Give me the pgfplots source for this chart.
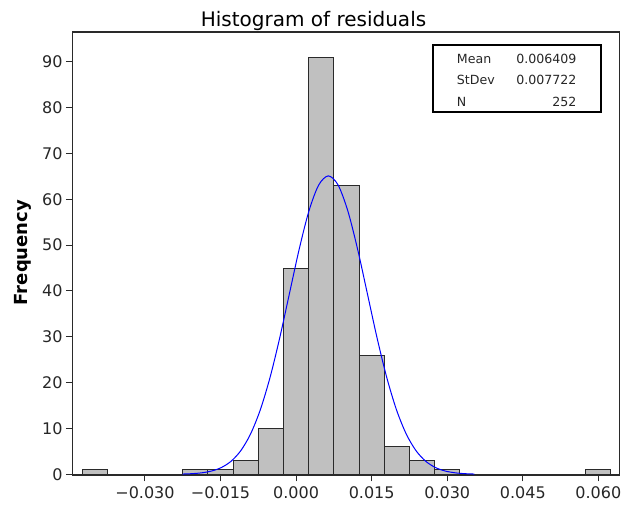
\documentclass[border=0pt]{standalone}
\usepackage{fontspec}
\setmainfont{DejaVu Sans}
\usepackage{pgfplots}
\pgfplotsset{compat=1.18}
\definecolor{barfill}{HTML}{C0C0C0}
\definecolor{edge}{HTML}{2A2A2A}
\begin{document}
\begin{tikzpicture}
\begin{axis}[name=a, scale only axis, width=547bp, height=443bp,
  xmin=-0.04439, xmax=0.06420, ymin=-0.15, ymax=96.49,
  scaled x ticks=false, scaled y ticks=false,
  axis line style={edge, line width=1.2bp},
  xtick={-0.03,-0.015,0,0.015,0.03,0.045,0.06},
  xticklabels={−0.030,−0.015,0.000,0.015,0.030,0.045,0.060},
  ytick={0,10,...,90},
  tick align=outside, xtick pos=bottom, ytick pos=left,
  major tick length=6.5bp, tick style={edge, line width=1bp},
  /pgf/number format/assume math mode=true,
  ticklabel style={font=\fontsize{16bp}{18bp}\selectfont, text=black!85},
  xticklabel style={yshift=-2bp},
  clip=true]
\addplot[ybar interval, fill=barfill, draw=edge, line width=1bp] coordinates {
  (-0.0425,1) (-0.0375,1)};
\addplot[ybar interval, fill=barfill, draw=edge, line width=1bp] coordinates {
  (-0.0225,1) (-0.0175,1) (-0.0125,3) (-0.0075,10) (-0.0025,45) (0.0025,91)
  (0.0075,63) (0.0125,26) (0.0175,6) (0.0225,3) (0.0275,1) (0.0325,1)};
\addplot[ybar interval, fill=barfill, draw=edge, line width=1bp] coordinates {
  (0.0575,1) (0.0625,1)};
\addplot[blue, line width=1bp, smooth] coordinates {
  (-0.022549,0.0575) (-0.020618,0.1424) (-0.018688,0.3311) (-0.016757,0.7232)
  (-0.014827,1.484) (-0.012896,2.860) (-0.010966,5.179) (-0.009035,8.811)
  (-0.007105,14.08) (-0.005174,21.13) (-0.003244,29.80) (-0.001313,39.49)
  (0.000618,49.14) (0.002548,57.45) (0.004479,63.10) (0.006409,65.10)
  (0.008340,63.10) (0.010270,57.45) (0.012201,49.14) (0.014131,39.49)
  (0.016062,29.80) (0.017992,21.13) (0.019923,14.08) (0.021853,8.811)
  (0.023784,5.179) (0.025714,2.860) (0.027645,1.484) (0.029575,0.7232)
  (0.031506,0.3311) (0.033436,0.1424) (0.035367,0.0575)};
\end{axis}
\begin{scope}[shift={(a.north west)}, x=1bp, y=-1bp]
  \node[font=\fontsize{20bp}{22bp}\selectfont, anchor=base, inner sep=0pt] at (241,-5.3) {Histogram of residuals};
  \node[rotate=90, anchor=base, inner sep=0pt, font=\bfseries\fontsize{18bp}{20bp}\selectfont] at (-44.5,220.5) {Frequency};
  \draw[black, line width=1.2bp] (360.5,13) rectangle (528.5,80);
  \begin{scope}[every node/.style={inner sep=0pt, font=\fontsize{12.6bp}{14bp}\selectfont, text=black!85}]
    \node[anchor=base west] at (384.2,31.3) {Mean};
    \node[anchor=base east] at (504.2,31.3) {0.006409};
    \node[anchor=base west] at (384.2,53) {StDev};
    \node[anchor=base east] at (504.2,53) {0.007722};
    \node[anchor=base west] at (384.2,74.7) {N};
    \node[anchor=base east] at (504.2,74.7) {252};
  \end{scope}
  \pgfresetboundingbox
  \path[use as bounding box] (-72.5,-32) rectangle (548.5,475);
\end{scope}
\end{tikzpicture}
\end{document}
